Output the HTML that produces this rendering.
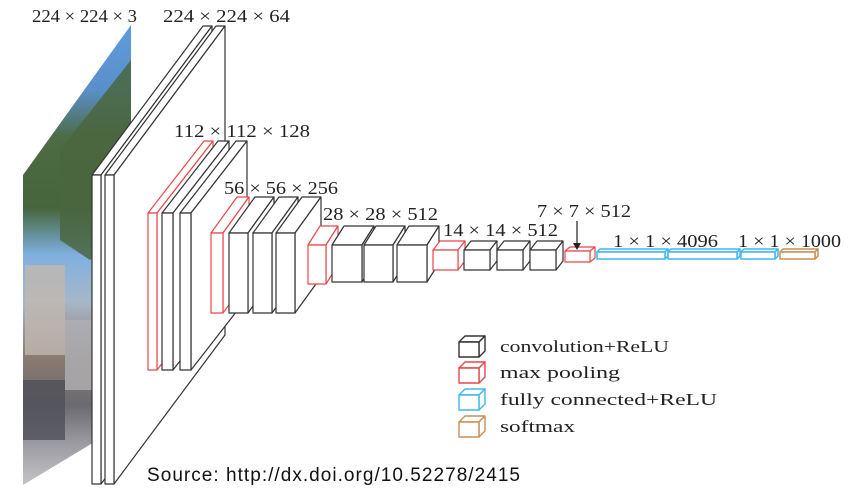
<!DOCTYPE html>
<html><head><meta charset="utf-8"><style>
html,body{margin:0;padding:0;background:#fff;width:850px;height:494px;overflow:hidden}
svg{display:block}
.lb{font-family:"Liberation Serif",serif;font-size:18px;fill:#222}
.lg{font-family:"Liberation Serif",serif;font-size:17px;fill:#222}
</style></head><body>
<svg id="s" width="850" height="494" viewBox="0 0 850 494" xmlns="http://www.w3.org/2000/svg">
<defs>
<linearGradient id="ph" x1="0" y1="0" x2="0" y2="1">
<stop offset="0" stop-color="#5f9ee0"/><stop offset="0.15" stop-color="#5a8fc8"/>
<stop offset="0.25" stop-color="#4d6b44"/><stop offset="0.4" stop-color="#46653c"/>
<stop offset="0.5" stop-color="#7fb0e0"/><stop offset="0.6" stop-color="#a7b7c8"/>
<stop offset="0.72" stop-color="#8a7a70"/><stop offset="0.82" stop-color="#6a6a70"/>
<stop offset="0.9" stop-color="#9a9aa0"/><stop offset="1" stop-color="#c8c8cc"/>
</linearGradient>
<clipPath id="pc"><polygon points="23,175 131,25 131,420 23,485"/></clipPath>
</defs>
<g clip-path="url(#pc)">
<rect x="20" y="20" width="115" height="470" fill="url(#ph)"/>
<polygon points="60,150 131,60 131,230 90,260 60,240" fill="#4a6640" opacity="0.85"/>
<rect x="25" y="265" width="40" height="90" fill="#c0b8b0" opacity="0.8"/>
<rect x="65" y="320" width="60" height="70" fill="#b0b0b4" opacity="0.8"/>
<rect x="20" y="380" width="45" height="60" fill="#505058" opacity="0.8"/>
</g>
<g id="boxes"></g>
<line x1="577" y1="221" x2="577" y2="247" stroke="#222" stroke-width="1.2"/>
<polygon points="573,243 581,243 577,250" fill="#222"/>
<g class="lb">
<text x="32" y="22" textLength="105" lengthAdjust="spacingAndGlyphs">224 × 224 × 3</text>
<text x="163" y="22" textLength="127" lengthAdjust="spacingAndGlyphs">224 × 224 × 64</text>
<text x="174" y="137" textLength="136" lengthAdjust="spacingAndGlyphs">112 × 112 × 128</text>
<text x="224" y="194" textLength="114" lengthAdjust="spacingAndGlyphs">56 × 56 × 256</text>
<text x="323" y="220" textLength="115" lengthAdjust="spacingAndGlyphs">28 × 28 × 512</text>
<text x="443" y="236" textLength="115" lengthAdjust="spacingAndGlyphs">14 × 14 × 512</text>
<text x="537" y="217" textLength="94" lengthAdjust="spacingAndGlyphs">7 × 7 × 512</text>
<text x="613" y="247" textLength="105" lengthAdjust="spacingAndGlyphs">1 × 1 × 4096</text>
<text x="738" y="247" textLength="103" lengthAdjust="spacingAndGlyphs">1 × 1 × 1000</text>
</g>
<g class="lg">
<text x="500" y="352" textLength="169" lengthAdjust="spacingAndGlyphs">convolution+ReLU</text>
<text x="500" y="378" textLength="120" lengthAdjust="spacingAndGlyphs">max pooling</text>
<text x="500" y="405" textLength="217" lengthAdjust="spacingAndGlyphs">fully connected+ReLU</text>
<text x="500" y="432" textLength="75" lengthAdjust="spacingAndGlyphs">softmax</text>
</g>
<text x="147" y="481" font-family="Liberation Sans, sans-serif" font-size="19" fill="#111" textLength="373">Source: http://dx.doi.org/10.52278/2415</text>
</svg>
<script>
var g=document.getElementById('boxes'),s='';
var K='#333',R='#e8474c',B='#3cb8ef',O='#c98f55';
function b(x,y,w,h,dx,dy,c,sw){sw=sw||1.2;
var a='fill="#fff" stroke="'+c+'" stroke-width="'+sw+'" stroke-linejoin="round"';
s+='<polygon '+a+' points="'+x+','+y+' '+(x+w)+','+y+' '+(x+w+dx)+','+(y+dy)+' '+(x+dx)+','+(y+dy)+'"/>';
s+='<polygon '+a+' points="'+(x+w)+','+y+' '+(x+w+dx)+','+(y+dy)+' '+(x+w+dx)+','+(y+h+dy)+' '+(x+w)+','+(y+h)+'"/>';
s+='<rect '+a+' x="'+x+'" y="'+y+'" width="'+w+'" height="'+h+'"/>';}
b(92,175,9,309,111,-149,K);b(105,175,9,309,111,-149,K);
b(148,213,9,157,56,-72,R);b(162,213,11,157,56,-72,K);b(180,213,11,157,56,-72,K);
b(211,233,12,80,26,-36,R);b(229,233,19,80,26,-36,K);b(253,233,19,80,26,-36,K);b(276,233,19,80,26,-36,K);
b(308,245,18,39,12,-19,R);b(332,245,30,37,12,-19,K);b(364,245,29,37,12,-19,K);b(397,245,30,37,12,-19,K);
b(433,250,25,20,7,-9,R);b(464,250,26,20,7,-9,K);b(497,250,26,20,7,-9,K);b(530,250,26,20,7,-9,K);
b(565,251,25,11,5,-4,R);
b(597,252,68,7,3,-3,B,1.5);b(668,252,69,7,3,-3,B,1.5);b(741,252,34,7,3,-3,B,1.5);b(780,252,35,7,3,-3,O,1.5);
b(459,342,20,15,6,-6,K,1.4);b(459,368,20,15,6,-6,R,1.4);b(459,395,20,15,6,-6,B,1.4);b(459,422,20,15,6,-6,O,1.4);
g.innerHTML=s;
</script>
</body></html>
